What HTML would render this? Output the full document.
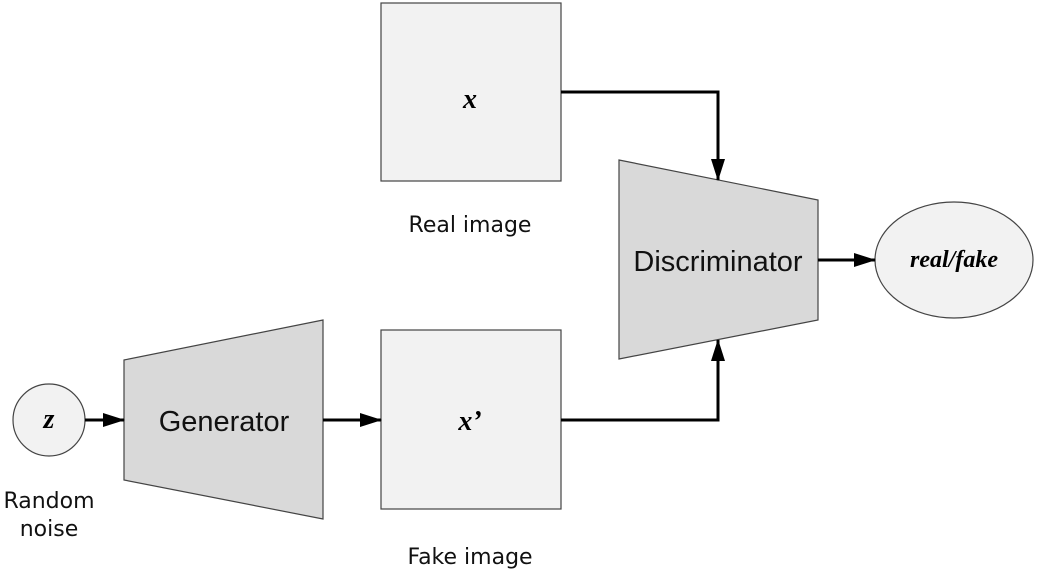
<!DOCTYPE html>
<html><head><style>body{margin:0;background:#fff}</style></head><body>
<svg width="1037" height="573" viewBox="0 0 1037 573" xmlns="http://www.w3.org/2000/svg">
<defs>
<marker id="b" markerWidth="22" markerHeight="14" refX="21" refY="7" orient="auto" markerUnits="userSpaceOnUse"><path d="M0,0 L22,7 L0,14z"/></marker></defs>
<g stroke="#444" stroke-width="1.2">
<rect x="381" y="3" width="180" height="178" fill="#f2f2f2"/>
<rect x="381" y="330" width="180" height="179" fill="#f2f2f2"/>
<polygon points="124,360 323,320 323,519 124,480" fill="#d9d9d9"/>
<polygon points="619,160 818,200 818,320 619,359" fill="#d9d9d9"/>
<circle cx="49" cy="420" r="36" fill="#f2f2f2"/>
<ellipse cx="954" cy="260" rx="79" ry="58" fill="#f2f2f2"/>
</g>
<g stroke="#000" stroke-width="3" fill="none" marker-end="url(#b)">
<line x1="85" y1="420" x2="124" y2="420"/>
<line x1="323" y1="420" x2="381" y2="420"/>
<line x1="818" y1="260" x2="875" y2="260"/>
<polyline points="561,92 718,92 718,180"/>
<polyline points="561,420 718,420 718,340"/>
</g>
<g font-family="Liberation Serif,serif" font-style="italic" font-weight="bold" text-anchor="middle" font-size="28">
<text x="470" y="108">x</text>
<text x="470" y="430">x’</text>
<text x="49" y="428">z</text>
<text x="954" y="267" font-size="24">real/fake</text>
</g>
<g font-family="Liberation Sans,sans-serif" text-anchor="middle" font-size="29" fill="#111">
<text x="224" y="431">Generator</text>
<text x="718" y="271">Discriminator</text>
</g>
<g font-family="DejaVu Sans,sans-serif" text-anchor="middle" font-size="22" fill="#111">
<text x="470" y="232">Real image</text>
<text x="470" y="564">Fake image</text>
<text x="49" y="508">Random</text>
<text x="49" y="536">noise</text>
</g>
</svg>
</body></html>
